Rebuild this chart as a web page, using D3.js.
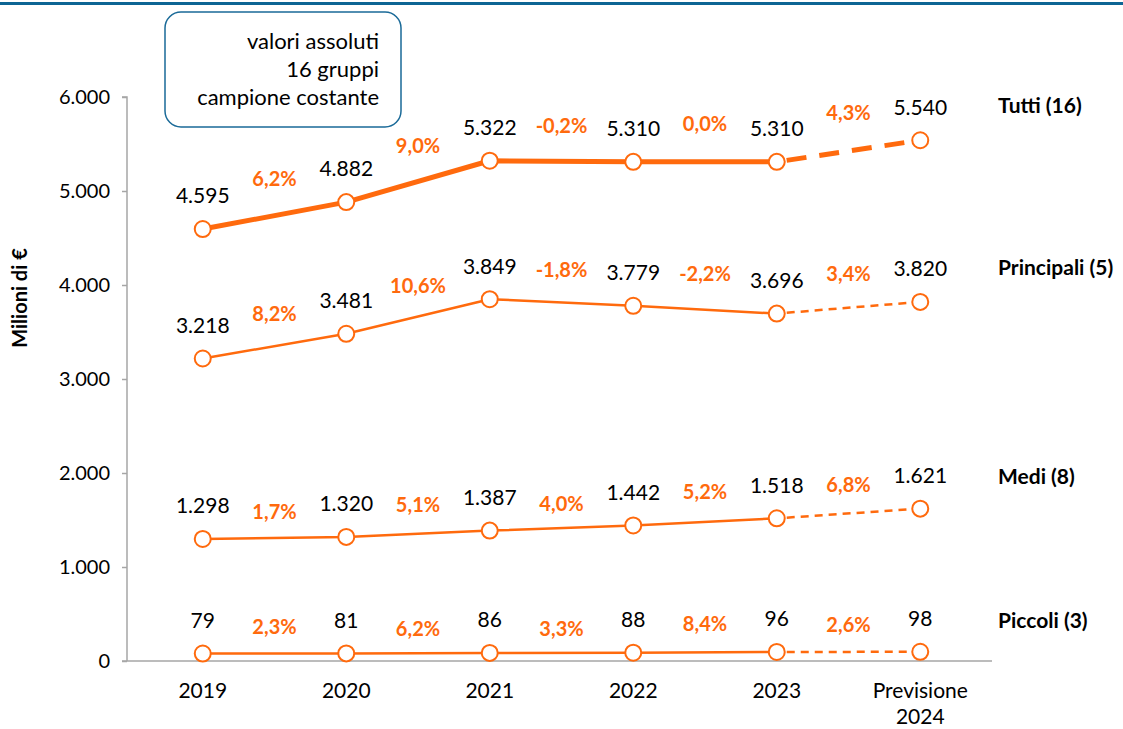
<!DOCTYPE html>
<html>
<head>
<meta charset="utf-8">
<script src="https://cdn.jsdelivr.net/npm/d3@7"></script>
<style>
  body { margin: 0; background: #fff; }
  svg { font-family: Lato, "Open Sans", sans-serif; }
</style>
</head>
<body>
<script>
// data
var categories = ["2019", "2020", "2021", "2022", "2023", "Previsione 2024"];
var seriesNames = ["Tutti (16)", "Principali (5)", "Medi (8)", "Piccoli (3)"];
var tutti = [4595, 4882, 5322, 5310, 5310, 5540];
var principali = [3218, 3481, 3849, 3779, 3696, 3820];
var medi = [1298, 1320, 1387, 1442, 1518, 1621];
var piccoli = [79, 81, 86, 88, 96, 98];
var tuttiPct = ["6,2%", "9,0%", "-0,2%", "0,0%", "4,3%"];
var principaliPct = ["8,2%", "10,6%", "-1,8%", "-2,2%", "3,4%"];
var mediPct = ["1,7%", "5,1%", "4,0%", "5,2%", "6,8%"];
var piccoliPct = ["2,3%", "6,2%", "3,3%", "8,4%", "2,6%"];
var yTicks = [0, 1000, 2000, 3000, 4000, 5000, 6000];
var boxLines = ["valori assoluti", "16 gruppi", "campione costante"];

var width = 1123, height = 729;
var orange = "#ff6a0d";

var svg = d3.select("body").append("svg")
    .attr("width", width)
    .attr("height", height);

// top rule
svg.append("rect").attr("x", 0).attr("y", 2).attr("width", width).attr("height", 3).attr("fill", "#0d6594");

var xScale = d3.scaleBand().domain(categories).range([131, 992]);
var yScale = d3.scaleLinear().domain([0, 6000]).range([661, 97]);
function cx(d) { return xScale(d) + xScale.bandwidth() / 2; }
function fmt(v) { return d3.format(",")(v).replace(/,/g, "."); }

// y axis
var yAxis = svg.append("g")
    .attr("transform", "translate(127,0)")
    .call(d3.axisLeft(yScale).tickValues(yTicks).tickSize(5).tickPadding(12).tickFormat(fmt));
yAxis.selectAll("text").attr("font-size", 20).attr("fill", "#000").attr("font-family", "Lato, sans-serif");
yAxis.selectAll("line, path").attr("stroke", "#a6a6a6").attr("stroke-width", 1.5);
yAxis.select(".domain").attr("d", "M-5,97H0V661");

// x axis
var xAxis = svg.append("g")
    .attr("transform", "translate(0,661)")
    .call(d3.axisBottom(xScale).tickSize(0).tickPadding(22));
xAxis.select(".domain").attr("stroke", "#a6a6a6").attr("stroke-width", 1.5).attr("d", "M122,0H992");
xAxis.selectAll(".tick text").attr("font-size", 21).attr("fill", "#000").attr("font-family", "Lato, sans-serif")
    .each(function(d) {
        var t = d3.select(this), parts = d.split(" ");
        if (parts.length > 1) {
            t.text(null);
            parts.forEach(function(p, i) {
                t.append("tspan").attr("x", 0).attr("dy", i === 0 ? "0.71em" : "1.25em").text(p);
            });
            t.attr("dy", null);
        }
    });

// y title
svg.append("text")
    .attr("transform", "translate(27,298) rotate(-90)")
    .attr("text-anchor", "middle")
    .attr("font-size", 20).attr("font-weight", "bold")
    .text("Milioni di €");

// series
var series = [
    {name: seriesNames[0], values: tutti, pct: tuttiPct, w: 5, dash: "20,13", nameY: 106, pctDy: [-37, -35, -35, -38, -38]},
    {name: seriesNames[1], values: principali, pct: principaliPct, w: 2.5, dash: "8,6", nameY: 268, pctDy: [-32, -30, -32, -36, -34]},
    {name: seriesNames[2], values: medi, pct: mediPct, w: 2.5, dash: "8,6", nameY: 477, pctDy: [-26, -29, -24, -30, -28]},
    {name: seriesNames[3], values: piccoli, pct: piccoliPct, w: 2.5, dash: "8,6", nameY: 621, pctDy: [-26, -24, -24, -28, -27]}
];

var line = d3.line()
    .x(function(d) { return cx(d.c); })
    .y(function(d) { return yScale(d.v); });

series.forEach(function(s) {
    var pts = s.values.map(function(v, i) { return {c: categories[i], v: v}; });
    svg.append("path")
        .attr("d", line(pts.slice(0, 5)))
        .attr("fill", "none").attr("stroke", orange).attr("stroke-width", s.w)
        .attr("stroke-linejoin", "round");
    svg.append("path")
        .attr("d", line(pts.slice(4)))
        .attr("fill", "none").attr("stroke", orange).attr("stroke-width", s.w)
        .attr("stroke-dasharray", s.dash)
        .attr("stroke-dashoffset", -10);

    svg.append("g").selectAll("circle")
        .data(pts).enter().append("circle")
        .attr("cx", function(d) { return cx(d.c); })
        .attr("cy", function(d) { return yScale(d.v); })
        .attr("r", 8)
        .attr("fill", "#fff").attr("stroke", orange).attr("stroke-width", 2);

    svg.append("g").selectAll("text")
        .data(pts).enter().append("text")
        .attr("x", function(d) { return cx(d.c); })
        .attr("y", function(d) { return yScale(d.v) - 33; })
        .attr("dy", "0.35em")
        .attr("text-anchor", "middle")
        .attr("font-size", 21)
        .text(function(d) { return fmt(d.v); });

    svg.append("g").selectAll("text")
        .data(s.pct).enter().append("text")
        .attr("x", function(d, i) { return (cx(categories[i]) + cx(categories[i + 1])) / 2; })
        .attr("y", function(d, i) { return (yScale(s.values[i]) + yScale(s.values[i + 1])) / 2 + s.pctDy[i]; })
        .attr("dy", "0.35em")
        .attr("text-anchor", "middle")
        .attr("font-size", 20).attr("font-weight", "bold")
        .attr("fill", orange)
        .text(function(d) { return d; });

    svg.append("text")
        .attr("x", 998).attr("y", s.nameY).attr("dy", "0.35em")
        .attr("font-size", 21).attr("font-weight", "bold")
        .text(s.name);
});

// note box
svg.append("rect")
    .attr("x", 165).attr("y", 12).attr("width", 236).attr("height", 115)
    .attr("rx", 16).attr("ry", 16)
    .attr("fill", "#fff").attr("stroke", "#1a6a98").attr("stroke-width", 1.5);
svg.append("g").selectAll("text")
    .data(boxLines).enter().append("text")
    .attr("x", 379)
    .attr("y", function(d, i) { return 41 + i * 28; })
    .attr("dy", "0.35em")
    .attr("text-anchor", "end")
    .attr("font-size", 22)
    .text(function(d) { return d; });
</script>
</body>
</html>
